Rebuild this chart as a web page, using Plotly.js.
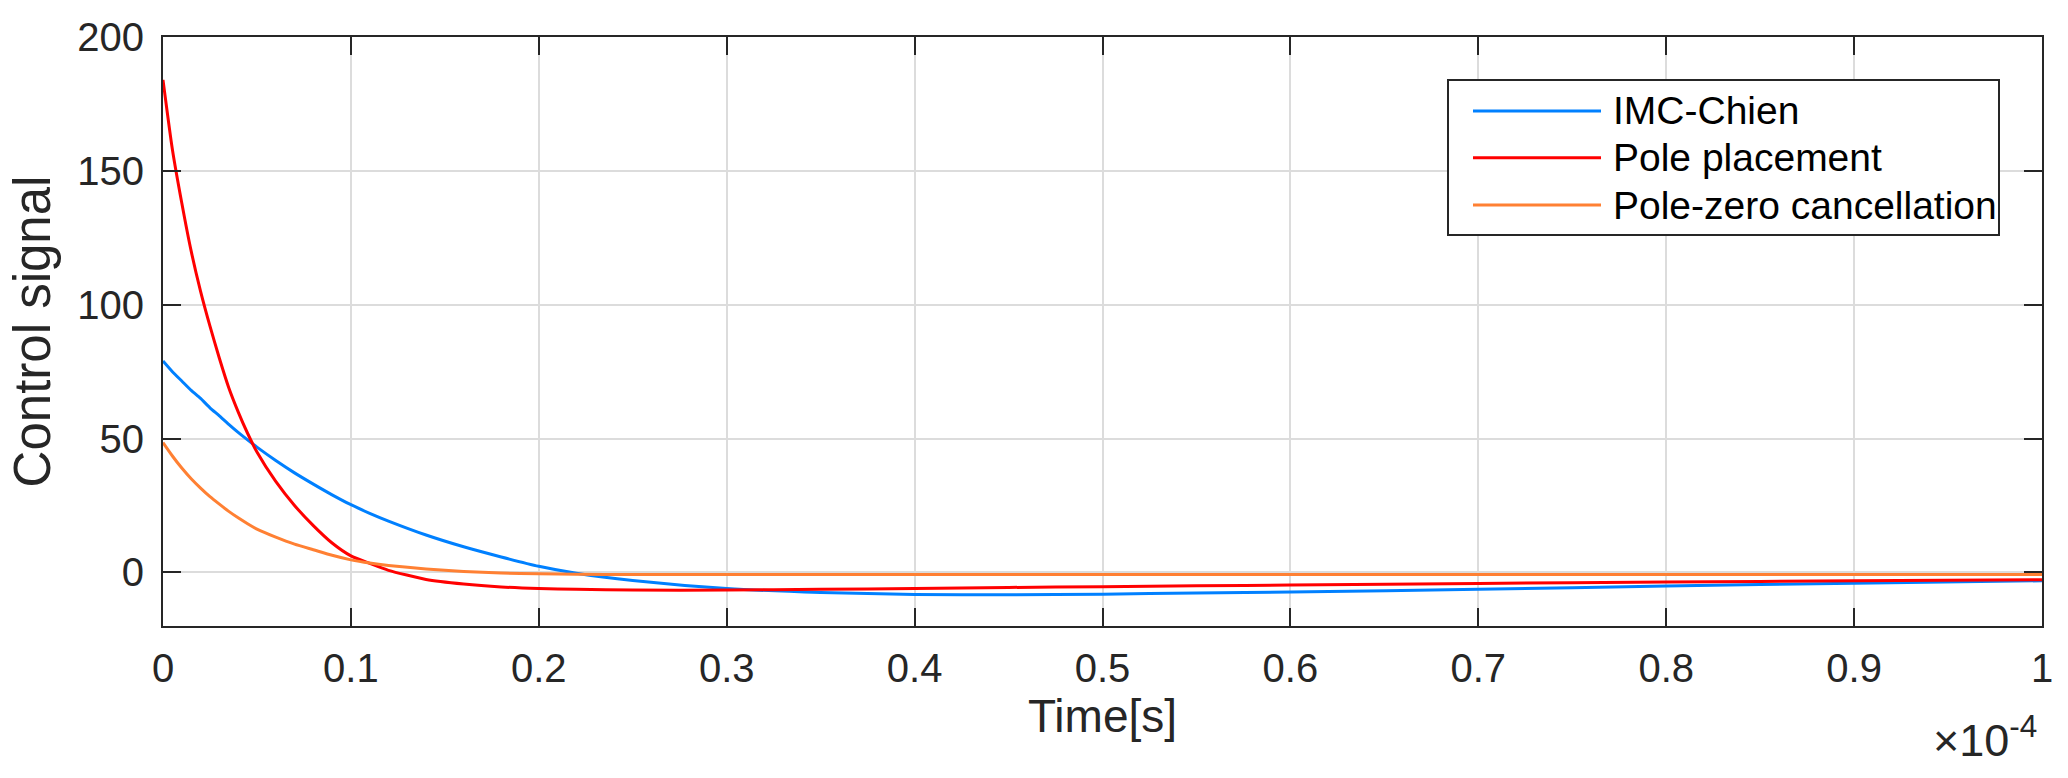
<!DOCTYPE html>
<html>
<head>
<meta charset="utf-8">
<script src="https://cdn.plot.ly/plotly-3.0.1.min.js"></script>
<style>html,body{margin:0;padding:0;background:#fff;}#chart{width:2068px;height:778px;}</style>
</head>
<body>
<div id="chart"></div>
<script>
// Time axis values, in units of 1e-4 s (as labelled on the axis)
const timeScaled = [0, 0.005, 0.01, 0.015, 0.02, 0.025, 0.03, 0.035, 0.04, 0.045, 0.05, 0.06, 0.07, 0.08, 0.09, 0.1, 0.11, 0.12, 0.14, 0.16, 0.18, 0.2, 0.22, 0.25, 0.3, 0.35, 0.4, 0.45, 0.5, 0.55, 0.6, 0.7, 0.8, 0.9, 1.0];
const timeExponent = -4;

const imcChien = [79, 75, 71.5, 68, 65, 61.5, 58.5, 55.3, 52.3, 49.5, 46.8, 41.8, 37.2, 33, 29, 25.3, 22.1, 19.2, 14, 9.6, 5.8, 2.3, -0.3, -3.0, -6.0, -7.5, -8.2, -8.3, -8.1, -7.7, -7.3, -6.3, -5.1, -4.0, -3.1];
const polePlacement = [184, 158, 138, 120, 105, 92, 80, 69, 60, 52, 45, 34, 25, 17.5, 11, 6.2, 3.4, 0.8, -2.6, -4.3, -5.4, -6.0, -6.3, -6.6, -6.6, -6.3, -6.0, -5.6, -5.3, -5.0, -4.7, -4.1, -3.6, -3.1, -2.7];
const poleZero = [48.5, 43.5, 39, 35, 31.5, 28.3, 25.5, 22.8, 20.4, 18.2, 16.2, 13.2, 10.6, 8.5, 6.4, 4.7, 3.5, 2.6, 1.3, 0.4, -0.2, -0.5, -0.7, -0.8, -0.8, -0.8, -0.8, -0.8, -0.8, -0.8, -0.8, -0.8, -0.8, -0.8, -0.8];

const seriesNames = ['IMC-Chien', 'Pole placement', 'Pole-zero cancellation'];
const xTickVals = [0, 0.1, 0.2, 0.3, 0.4, 0.5, 0.6, 0.7, 0.8, 0.9, 1];
const xTickText = ['0', '0.1', '0.2', '0.3', '0.4', '0.5', '0.6', '0.7', '0.8', '0.9', '1'];
const yTickVals = [0, 50, 100, 150, 200];
const xTitle = 'Time[s]';
const yTitle = 'Control signal';

const colors = ['#0080FF', '#FF0000', '#FF8033'];
const FONT = 'Liberation Sans, Arial, Helvetica, sans-serif';
const AX = '#262626';

const W = 2068, H = 778;
const M = {l: 163, r: 26, t: 37, b: 152};
const PW = W - M.l - M.r, PH = H - M.t - M.b;
const px = v => (v - M.l) / PW;          // pixel x -> paper x
const py = v => (H - M.b - v) / PH;      // pixel y -> paper y

const ys = [imcChien, polePlacement, poleZero];
const traces = ys.map((y, i) => ({
  x: timeScaled, y: y, type: 'scatter', mode: 'lines', name: seriesNames[i],
  showlegend: false,
  line: {color: colors[i], width: 3, shape: 'spline', smoothing: 0.6}
}));

// Legend box (MATLAB style), built from layout shapes + annotations
const legBox = {x0: 1448, x1: 1999, y0: 80, y1: 235};
const legRows = [111, 157.7, 205];
const shapes = [{
  type: 'rect', xref: 'paper', yref: 'paper', layer: 'above',
  x0: px(legBox.x0), x1: px(legBox.x1), y0: py(legBox.y1), y1: py(legBox.y0),
  line: {color: AX, width: 2}, fillcolor: '#ffffff'
}];
const annotations = [];
seriesNames.forEach((name, i) => {
  shapes.push({
    type: 'line', xref: 'paper', yref: 'paper', layer: 'above',
    x0: px(1473), x1: px(1601), y0: py(legRows[i]), y1: py(legRows[i]),
    line: {color: colors[i], width: 3}
  });
  annotations.push({
    xref: 'paper', yref: 'paper', x: px(1611), y: py(legRows[i]),
    xanchor: 'left', yanchor: 'middle', showarrow: false, text: name,
    font: {family: FONT, size: 39, color: '#000000'}
  });
});
annotations.push({
  xref: 'paper', yref: 'paper', x: 1, y: 0, xanchor: 'right', yanchor: 'top',
  yshift: -80, xshift: -3,
  text: '×10<sup>' + timeExponent + '</sup>', showarrow: false,
  font: {family: FONT, size: 45, color: AX}
});

const axisCommon = {
  showline: true, linecolor: AX, linewidth: 2, mirror: 'allticks',
  ticks: 'inside', ticklen: 18, tickwidth: 2, tickcolor: AX,
  showgrid: true, gridcolor: '#dcdcdc', gridwidth: 2, zeroline: false,
  tickfont: {family: FONT, size: 40, color: AX}
};

const layout = {
  width: W, height: H, margin: M,
  paper_bgcolor: '#ffffff', plot_bgcolor: '#ffffff',
  font: {family: FONT, color: AX},
  showlegend: false,
  xaxis: Object.assign({}, axisCommon, {
    range: [0, 1], tickmode: 'array', tickvals: xTickVals, ticktext: xTickText,
    ticklabelstandoff: 6,
    title: {text: xTitle, font: {family: FONT, size: 46, color: AX}, standoff: 8}
  }),
  yaxis: Object.assign({}, axisCommon, {
    range: [-20, 200], tickmode: 'array', tickvals: yTickVals,
    ticklabelstandoff: 9,
    title: {text: yTitle, font: {family: FONT, size: 51, color: AX}, standoff: 10}
  }),
  shapes: shapes,
  annotations: annotations
};

Plotly.newPlot('chart', traces, layout, {displayModeBar: false, staticPlot: true});
</script>
</body>
</html>
